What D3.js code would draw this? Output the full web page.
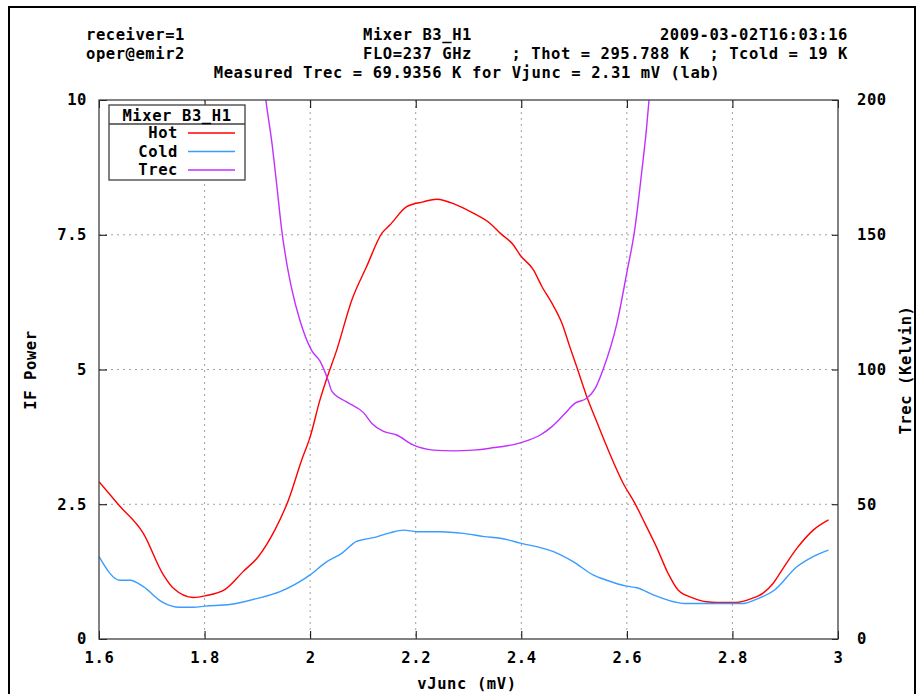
<!DOCTYPE html>
<html>
<head>
<meta charset="utf-8">
<script src="https://cdn.jsdelivr.net/npm/d3@7"></script>
<style>
  body { margin: 0; background: #fff; }
  text { font-family: "DejaVu Sans Mono", monospace; font-weight: bold; font-size: 15.5px; letter-spacing: 0.6px; fill: #000; }
</style>
</head>
<body>
<div id="chart"></div>
<script>
// header lines (fixed width, gnuplot style)
var header = [
  "receiver=1                  Mixer B3_H1                   2009-03-02T16:03:16",
  "oper@emir2                  FLO=237 GHz    ; Thot = 295.788 K  ; Tcold = 19 K"
];
var subTitle = "Measured Trec = 69.9356 K for Vjunc = 2.31 mV (lab)";

var xTicks = [1.6, 1.8, 2.0, 2.2, 2.4, 2.6, 2.8, 3.0];
var yTicks = [0, 2.5, 5, 7.5, 10];
var y2Ticks = [0, 50, 100, 150, 200];

// Hot
var hotV = [1.600,1.637,1.684,1.722,1.741,1.779,1.801,1.839,1.873,1.902,1.933,1.959,1.984,2.000,2.019,2.031,2.050,2.079,2.107,2.136,2.151,2.183,2.214,2.240,2.278,2.309,2.341,2.360,2.385,2.398,2.423,2.439,2.458,2.477,2.492,2.505,2.524,2.543,2.562,2.593,2.615,2.634,2.656,2.678,2.697,2.726,2.751,2.770,2.808,2.833,2.858,2.877,2.896,2.922,2.953,2.982];
var hotP = [2.92,2.49,1.96,1.19,0.94,0.77,0.80,0.92,1.25,1.53,2.02,2.58,3.32,3.75,4.45,4.82,5.35,6.29,6.91,7.53,7.68,8.02,8.11,8.16,8.05,7.90,7.71,7.53,7.31,7.12,6.85,6.54,6.23,5.86,5.42,5.05,4.50,4.03,3.57,2.89,2.52,2.15,1.71,1.22,0.91,0.76,0.69,0.68,0.68,0.74,0.85,1.03,1.31,1.68,2.02,2.21];

// Cold
var coldV = [1.600,1.640,1.659,1.684,1.719,1.753,1.779,1.801,1.848,1.899,1.943,2.000,2.031,2.060,2.088,2.120,2.151,2.177,2.202,2.246,2.290,2.330,2.360,2.398,2.461,2.499,2.536,2.562,2.600,2.619,2.650,2.678,2.710,2.764,2.821,2.846,2.880,2.922,2.953,2.982];
var coldP = [1.53,1.09,1.09,0.97,0.69,0.59,0.59,0.61,0.64,0.75,0.88,1.19,1.43,1.59,1.81,1.88,1.97,2.02,1.99,1.99,1.96,1.90,1.87,1.78,1.62,1.43,1.19,1.09,0.98,0.95,0.82,0.72,0.66,0.66,0.66,0.74,0.91,1.34,1.53,1.65];

// Trec (right axis, Kelvin)
var trecV = [1.900,1.916,1.927,1.937,1.946,1.956,1.965,1.981,2.003,2.019,2.034,2.041,2.069,2.101,2.117,2.139,2.164,2.195,2.233,2.271,2.309,2.341,2.398,2.436,2.458,2.480,2.502,2.524,2.540,2.555,2.581,2.600,2.615,2.628,2.637,2.642,2.650];
var trecK = [228,200,185,168,152,139,130,118,107,103,96,92,88,84,80,77,75.7,72,70.1,69.8,70.1,70.8,72.8,75.7,78.8,83.1,87.5,89.3,93,100,117,136,152,173,189,200,220];

var W = 917, H = 694;
var pL = 99, pR = 838, pT = 100, pB = 639;

var svg = d3.select('#chart').append('svg')
  .attr('width', W).attr('height', H)
  .style('background', '#fff');

// outer frame
svg.append('rect')
  .attr('x', 9).attr('y', 7).attr('width', 906).attr('height', 720)
  .attr('fill', 'none').attr('stroke', '#000').attr('stroke-width', 2);

var x = d3.scaleLinear().domain([1.6, 3]).range([pL, pR]);
var y = d3.scaleLinear().domain([0, 10]).range([pB, pT]);
var y2 = d3.scaleLinear().domain([0, 200]).range([pB, pT]);

// header
svg.selectAll('.hdr').data(header).enter().append('text')
  .attr('class', 'hdr')
  .attr('x', 86)
  .attr('y', function(d, i) { return 40 + i * 19; })
  .attr('xml:space', 'preserve')
  .style('white-space', 'pre')
  .attr('textLength', 762)
  .attr('lengthAdjust', 'spacing')
  .text(function(d) { return d; });
svg.append('text')
  .attr('x', 467).attr('y', 78)
  .style('text-anchor', 'middle')
  .text(subTitle);

// grid
var grid = svg.append('g').attr('stroke', '#a0a0a0').attr('stroke-width', 1).attr('stroke-dasharray', '2,4');
grid.selectAll('.gx').data(xTicks.slice(1, -1)).enter().append('line')
  .attr('x1', function(d) { return x(d); }).attr('x2', function(d) { return x(d); })
  .attr('y1', pT).attr('y2', pB);
grid.selectAll('.gy').data(yTicks.slice(1, -1)).enter().append('line')
  .attr('y1', function(d) { return y(d); }).attr('y2', function(d) { return y(d); })
  .attr('x1', pL).attr('x2', pR);

// axes
var fmt = d3.format('~g');
function styleAxis(g) {
  g.select('.domain').remove();
  g.selectAll('.tick line').attr('stroke', '#000');
  g.selectAll('.tick text').attr('font-family', null).attr('font-size', null).attr('fill', '#000');
}
svg.append('g').attr('transform', 'translate(0,' + pB + ')')
  .call(d3.axisBottom(x).tickValues(xTicks).tickFormat(fmt).tickSize(-8).tickPadding(13)).call(styleAxis);
svg.append('g').attr('transform', 'translate(0,' + pT + ')')
  .call(d3.axisTop(x).tickValues(xTicks).tickFormat('').tickSize(-8)).call(styleAxis);
svg.append('g').attr('transform', 'translate(' + pL + ',0)')
  .call(d3.axisLeft(y).tickValues(yTicks).tickFormat(fmt).tickSize(-8).tickPadding(12)).call(styleAxis);
svg.append('g').attr('transform', 'translate(' + pR + ',0)')
  .call(d3.axisRight(y2).tickValues(y2Ticks).tickFormat(fmt).tickSize(-6).tickPadding(19)).call(styleAxis);

// curves
svg.append('clipPath').attr('id', 'clip').append('rect')
  .attr('x', pL).attr('y', pT).attr('width', pR - pL).attr('height', pB - pT);

var lineP = d3.line().curve(d3.curveMonotoneX).x(function(d) { return x(d[0]); }).y(function(d) { return y(d[1]); });
var lineK = d3.line().curve(d3.curveMonotoneX).x(function(d) { return x(d[0]); }).y(function(d) { return y2(d[1]); });

var plots = svg.append('g').attr('clip-path', 'url(#clip)').attr('fill', 'none').attr('stroke-width', 1.4);
plots.append('path').attr('d', lineP(d3.zip(hotV, hotP))).attr('stroke', '#ff0000');
plots.append('path').attr('d', lineP(d3.zip(coldV, coldP))).attr('stroke', '#3a9cff');
plots.append('path').attr('d', lineK(d3.zip(trecV, trecK))).attr('stroke', '#c030ff');

// border
svg.append('rect')
  .attr('x', pL).attr('y', pT).attr('width', pR - pL).attr('height', pB - pT)
  .attr('fill', 'none').attr('stroke', '#404040').attr('stroke-width', 1.3);

// axis titles
svg.append('text').attr('x', 467).attr('y', 689).style('text-anchor', 'middle').text('vJunc (mV)');
svg.append('text').attr('transform', 'translate(36,370) rotate(-90)').style('text-anchor', 'middle').text('IF Power');
svg.append('text').attr('transform', 'translate(911,370) rotate(-90)').style('text-anchor', 'middle').text('Trec (Kelvin)');

// legend
var legNames = ['Hot', 'Cold', 'Trec'];
var legColors = ['#ff0000', '#3a9cff', '#c030ff'];
var leg = svg.append('g');
leg.append('rect').attr('x', 109).attr('y', 105).attr('width', 136).attr('height', 75)
  .attr('fill', '#fff').attr('stroke', '#404040').attr('stroke-width', 1.3);
leg.append('line').attr('x1', 109).attr('x2', 245).attr('y1', 124).attr('y2', 124)
  .attr('stroke', '#404040').attr('stroke-width', 1.3);
leg.append('text').attr('x', 177).attr('y', 121).style('text-anchor', 'middle').text('Mixer B3_H1');
leg.selectAll('.ln').data(legNames).enter().append('text')
  .attr('x', 178).attr('y', function(d, i) { return 138 + i * 18.5; })
  .style('text-anchor', 'end').text(function(d) { return d; });
leg.selectAll('.ls').data(legColors).enter().append('line')
  .attr('x1', 188).attr('x2', 235)
  .attr('y1', function(d, i) { return 133 + i * 18.5; }).attr('y2', function(d, i) { return 133 + i * 18.5; })
  .attr('stroke', function(d) { return d; }).attr('stroke-width', 1.4);
</script>
</body>
</html>
